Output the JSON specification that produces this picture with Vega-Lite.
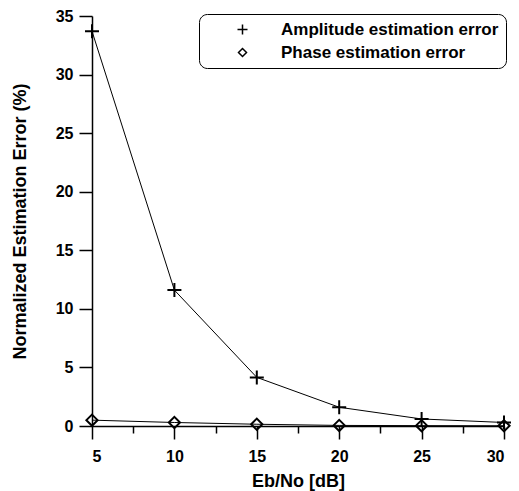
{
  "$schema": "https://vega.github.io/schema/vega-lite/v6.json",
  "width": 412,
  "height": 410,
  "autosize": {"type": "none"},
  "padding": {"left": 92, "top": 16, "right": 15, "bottom": 65},
  "background": "white",
  "config": {
    "view": {"stroke": null},
    "font": "Liberation Sans",
    "axis": {
      "grid": false,
      "domainColor": "black",
      "domainWidth": 1.5,
      "tickColor": "black",
      "tickWidth": 1.5,
      "labelColor": "black",
      "labelFont": "Liberation Sans",
      "labelFontSize": 16,
      "labelFontWeight": "bold",
      "titleColor": "black",
      "titleFont": "Liberation Sans",
      "titleFontSize": 18,
      "titleFontWeight": "bold"
    }
  },
  "data": {
    "values": [
      {"ebno": 5, "error": 33.7, "series": "Amplitude estimation error"},
      {"ebno": 10, "error": 11.6, "series": "Amplitude estimation error"},
      {"ebno": 15, "error": 4.15, "series": "Amplitude estimation error"},
      {"ebno": 20, "error": 1.6, "series": "Amplitude estimation error"},
      {"ebno": 25, "error": 0.6, "series": "Amplitude estimation error"},
      {"ebno": 30, "error": 0.3, "series": "Amplitude estimation error"},
      {"ebno": 5, "error": 0.5, "series": "Phase estimation error"},
      {"ebno": 10, "error": 0.3, "series": "Phase estimation error"},
      {"ebno": 15, "error": 0.15, "series": "Phase estimation error"},
      {"ebno": 20, "error": 0.05, "series": "Phase estimation error"},
      {"ebno": 25, "error": 0.03, "series": "Phase estimation error"},
      {"ebno": 30, "error": 0.02, "series": "Phase estimation error"}
    ]
  },
  "encoding": {
    "x": {
      "field": "ebno",
      "type": "quantitative",
      "scale": {"domain": [5, 30], "nice": false, "zero": false},
      "axis": {
        "title": "Eb/No [dB]",
        "values": [5, 7.5, 10, 12.5, 15, 17.5, 20, 22.5, 25, 27.5, 30],
        "labelExpr": "datum.value % 5 === 0 ? datum.label : ''",
        "tickSize": {"condition": {"test": "datum.value % 5 !== 0", "value": 7}, "value": 13},
        "labelPadding": 9,
        "titlePadding": 8
      }
    },
    "y": {
      "field": "error",
      "type": "quantitative",
      "scale": {"domain": [0, 35], "nice": false},
      "axis": {
        "title": "Normalized Estimation Error (%)",
        "values": [0, 5, 10, 15, 20, 25, 30, 35],
        "tickSize": 13,
        "labelPadding": 6,
        "titlePadding": 26
      }
    }
  },
  "layer": [
    {
      "mark": {"type": "line", "color": "black", "strokeWidth": 1},
      "encoding": {"detail": {"field": "series", "type": "nominal"}}
    },
    {
      "mark": {"type": "point", "filled": false, "color": "black", "opacity": 1, "size": 196},
      "encoding": {
        "shape": {
          "field": "series",
          "type": "nominal",
          "scale": {"range": ["M-1,0H1M0,-1V1", "M-0.8,0L0,-0.8L0.8,0L0,0.8Z"]},
          "legend": {
            "title": null,
            "orient": "none",
            "legendX": 107,
            "legendY": -2,
            "strokeColor": "black",
            "cornerRadius": 8,
            "padding": 7,
            "symbolSize": 100,
            "symbolOffset": 28,
            "labelFont": "Liberation Sans",
            "labelFontSize": 17,
            "labelFontWeight": "bold",
            "labelColor": "black",
            "labelLimit": 400,
            "labelOffset": 30,
            "rowPadding": 5,
            "encode": {
              "legend": {"update": {"strokeWidth": {"value": 1.5}}}
            }
          }
        }
      }
    }
  ]
}
